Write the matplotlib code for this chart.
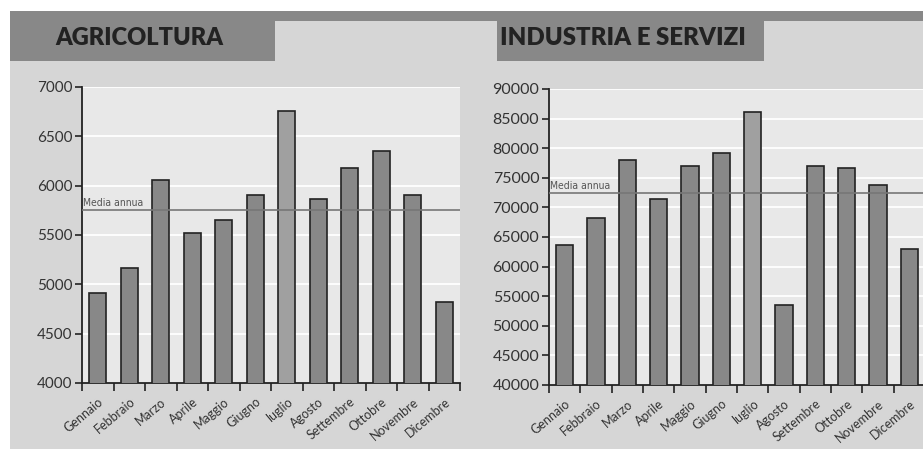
import matplotlib
matplotlib.use("Agg")
import matplotlib.pyplot as plt
from matplotlib.patches import Rectangle

months = ["Gennaio", "Febbraio", "Marzo", "Aprile", "Maggio", "Giugno",
          "luglio", "Agosto", "Settembre", "Ottobre", "Novembre", "Dicembre"]
agricoltura = [4910, 5163, 6060, 5517, 5648, 5905, 6761, 5868, 6178, 6353, 5905, 4816]
industria = [63650, 68210, 78000, 71480, 77000, 79250, 86060, 53570, 77000, 76650, 73730, 62970]
media_agri = 5750
media_ind = 72380
titles = ["AGRICOLTURA", "INDUSTRIA E SERVIZI"]
agri_ticks = [4000, 4500, 5000, 5500, 6000, 6500, 7000]
ind_ticks = list(range(40000, 90001, 5000))
highlight = "luglio"

W, H = 923, 449
fig = plt.figure(figsize=(W / 100, H / 100), dpi=100)
fig.patch.set_facecolor("white")

def px_rect(x0, y0, x1, y1, color, z=0):
    fig.patches.append(Rectangle((x0 / W, 1 - y1 / H), (x1 - x0) / W, (y1 - y0) / H,
                                 transform=fig.transFigure, facecolor=color,
                                 edgecolor="none", zorder=z))

px_rect(10, 11, 923, 449, "#d6d6d6", -3)
px_rect(10, 11, 923, 21, "#888888", -2)
px_rect(10, 11, 275, 61, "#888888", -2)
px_rect(497, 21, 764, 61, "#888888", -2)

title_font = ["Lato", "DejaVu Sans"]
fig.text(55 / W, 1 - 38 / H, titles[0], fontsize=17, fontweight="heavy",
         family=title_font, color="#222222", va="center", ha="left")
fig.text(500 / W, 1 - 38 / H, titles[1], fontsize=17.3, fontweight="heavy",
         family=title_font, color="#222222", va="center", ha="left")

def make_panel(rect_px, values, media, ticks, ysize):
    x0, y0, x1, y1 = rect_px
    ax = fig.add_axes([x0 / W, 1 - y1 / H, (x1 - x0) / W, (y1 - y0) / H])
    ax.set_zorder(5)
    ax.set_facecolor("#e8e8e8")
    n = len(values)
    colors = ["#a0a0a0" if m == highlight else "#888888" for m in months]
    ax.bar(range(n), values, width=0.55, color=colors, edgecolor="#222222",
           linewidth=1.2, zorder=3)
    ax.set_xlim(-0.5, n - 0.5)
    ax.set_ylim(ticks[0], ticks[-1])
    ax.set_yticks(ticks)
    ax.set_yticklabels([str(t) for t in ticks], family=["Lato", "DejaVu Sans"],
                       fontsize=ysize, color="#333333")
    ax.yaxis.grid(True, color="white", linewidth=1.3, zorder=1)
    ax.set_axisbelow(True)
    ax.set_xticks([i - 0.5 for i in range(n + 1)])
    ax.set_xticklabels([])
    ax.set_xticks(range(n), minor=True)
    ax.set_xticklabels(months, minor=True, rotation=40, ha="right",
                       rotation_mode="anchor", fontsize=9,
                       family=["Lato", "DejaVu Sans"], color="#333333")
    ax.tick_params(axis="x", which="minor", length=0, pad=9)
    ax.tick_params(axis="x", which="major", length=6, width=1.2, color="#222222")
    ax.tick_params(axis="y", length=5, width=1.2, color="#222222", pad=2)
    for s in ["top", "right"]:
        ax.spines[s].set_visible(False)
    for s in ["left", "bottom"]:
        ax.spines[s].set_color("#222222")
        ax.spines[s].set_linewidth(1.3)
    ax.axhline(media, color="#777777", linewidth=1.2, zorder=4)
    ax.annotate("Media annua", xy=(-0.5, media), xytext=(1, 2),
                textcoords="offset points", fontsize=7.5, color="#555555",
                va="bottom", ha="left", zorder=5, family=["DejaVu Sans"],
                fontstretch="condensed")
    return ax

make_panel((82, 87, 460, 383), agricoltura, media_agri, agri_ticks, 11)
make_panel((549, 89, 925, 385), industria, media_ind, ind_ticks, 11.5)

fig.savefig("out.png", dpi=100)
